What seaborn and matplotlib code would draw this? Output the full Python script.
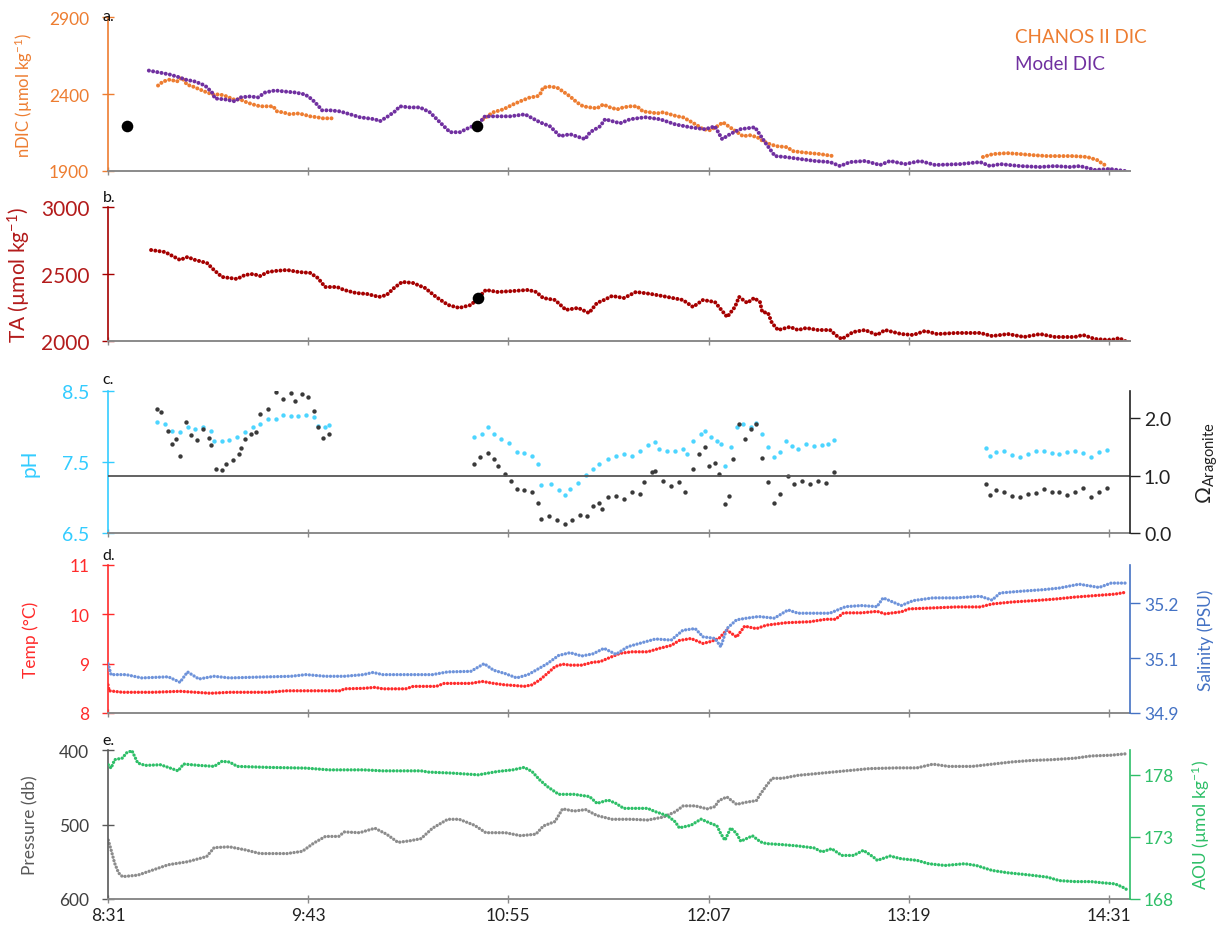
import numpy as np
import pandas as pd
import matplotlib
matplotlib.use("Agg")
import matplotlib.pyplot as plt
from matplotlib.lines import Line2D
from matplotlib.ticker import FixedLocator, FuncFormatter, FormatStrFormatter
import seaborn as sns

# ---------------------------------------------------------------------------
# Time axis: minutes after 08:31
# ---------------------------------------------------------------------------
START_MIN = 8 * 60 + 31
X_MAX = 367.6
X_TICKS = [0, 72, 144, 216, 288, 360]

# a. normalised DIC (umol/kg)
chanos_t_1 = [18.0, 19.8, 22.3, 24.8, 26.6, 28.4, 30.6, 33.1, 35.6, 37.8, 40.3, 42.8, 45.0, 47.5,
              50.0, 52.2, 54.7, 57.2, 59.4, 60.8, 62.9, 65.5, 68.0, 70.1, 72.7, 75.2, 77.3, 80.6]
chanos_dic_1 = [2455, 2481, 2494, 2481, 2507, 2461, 2448, 2429, 2410, 2397, 2397, 2384, 2365, 2365,
                2345, 2332, 2320, 2320, 2320, 2287, 2281, 2268, 2274, 2268, 2255, 2249, 2242, 2242]
chanos_t_2 = [134.9, 138.5, 142.1, 145.7, 148.2, 151.8, 154.3, 155.4, 156.5, 159.0, 161.5, 163.7,
              166.2, 168.7, 170.9, 173.4, 175.9, 178.1, 180.6, 183.1, 185.3, 187.8, 190.3, 192.4,
              195.0, 197.5, 199.6, 202.2, 204.7, 206.8, 209.4, 211.9, 214.0, 216.5, 219.1, 221.2,
              223.7, 226.3, 228.4, 230.9, 233.5, 235.6, 238.1, 240.6, 244.2, 246.4, 248.9, 252.5,
              256.1, 260.8, 261.5]
chanos_dic_2 = [2236, 2281, 2300, 2332, 2352, 2378, 2384, 2397, 2442, 2448, 2442, 2416,
                2384, 2345, 2320, 2313, 2307, 2332, 2313, 2300, 2313, 2320, 2320, 2287,
                2281, 2274, 2281, 2268, 2255, 2249, 2223, 2197, 2171, 2165, 2190, 2216,
                2184, 2152, 2126, 2132, 2120, 2094, 2074, 2061, 2055, 2029, 2023, 2016,
                2010, 1997, 1991]
chanos_t_3 = [314.7, 318.3, 323.4, 328.1, 332.7, 337.8, 342.4, 347.1, 352.2, 355.8, 357.9, 359.4]
chanos_dic_3 = [1991, 2010, 2016, 2010, 2003, 1997, 1997, 1997, 1991, 1971, 1945, 1932]

model_t = [14.7, 18.7, 22.3, 25.9, 27.7, 31.3, 34.9, 37.4, 38.5, 42.1, 45.7, 47.5, 51.1, 54.0, 56.5,
           60.1, 63.7, 67.3, 70.9, 73.4, 75.5, 77.0, 79.9, 83.5, 87.1, 90.6, 93.5, 96.0, 97.8, 100.7,
           103.2, 105.0, 108.6, 112.2, 115.8, 119.4, 123.0, 126.6, 130.2, 133.1, 135.6, 139.2, 144.6,
           150.0, 155.4, 159.0, 162.6, 166.2, 171.6, 173.4, 177.0, 178.8, 184.2, 187.8, 193.2, 198.6,
           204.0, 209.4, 214.7, 218.3, 220.9, 223.7, 227.3, 232.7, 236.3, 239.9, 243.5, 248.9, 254.3,
           259.7, 263.3, 266.9, 272.3, 277.7, 281.3, 286.7, 292.1, 297.5, 306.5, 313.7, 317.3, 320.9,
           328.1, 335.3, 340.6, 346.0, 349.6, 355.0, 360.4, 365.8]
model_dic = [2552, 2539, 2526, 2507, 2494, 2481, 2455, 2410, 2371, 2365, 2352, 2378, 2384, 2378, 2410,
             2423, 2416, 2410, 2397, 2365, 2326, 2294, 2294, 2287, 2268, 2249, 2242, 2236, 2223, 2255,
             2287, 2320, 2313, 2313, 2281, 2216, 2152, 2152, 2184, 2203, 2255, 2255, 2255,
             2268, 2216, 2190, 2126, 2139, 2107, 2152, 2190, 2236, 2210, 2236, 2249, 2236,
             2203, 2184, 2171, 2190, 2107, 2139, 2171, 2184, 2087, 1997, 1991, 1978, 1965,
             1958, 1932, 1958, 1965, 1939, 1965, 1945, 1965, 1939, 1945, 1958, 1932, 1945,
             1932, 1926, 1932, 1926, 1932, 1907, 1913, 1900]
dic_ref_t = [6.8, 132.7]
dic_ref = [2190, 2190]

# b. total alkalinity (umol/kg)
ta_t = [15.5, 20.5, 25.9, 28.6, 31.3, 35.6, 38.1, 41.0, 43.9, 46.4, 49.3, 52.2, 54.7, 57.6, 60.4,
        64.4, 68.5, 72.7, 75.5, 78.1, 82.4, 84.9, 89.2, 93.2, 97.5, 100.2, 102.9, 105.8, 109.7,
        114.0, 118.0, 122.3, 126.3, 130.6, 133.1, 135.9, 140.1, 145.7, 151.1, 154.0, 156.5, 160.8,
        164.7, 169.1, 173.0, 175.9, 178.4, 181.3, 185.6, 189.9, 195.3, 201.1, 206.8, 210.4, 214.0,
        218.3, 221.2, 222.7, 225.5, 227.0, 229.9, 232.4, 234.5, 235.3, 237.4, 238.8, 241.0, 245.3,
        248.2, 251.1, 255.4, 259.7, 262.6, 264.0, 268.0, 272.3, 276.6, 279.5, 285.3, 289.6, 293.9,
        298.2, 305.0, 313.7, 318.0, 323.7, 329.5, 335.3, 340.6, 347.8, 350.7, 355.0, 360.8, 363.7,
        366.5]
ta = [2679, 2664, 2605, 2627, 2605, 2582, 2530, 2478, 2470, 2463, 2493, 2500, 2485, 2515, 2523,
      2530, 2515, 2508, 2470, 2403, 2403, 2381, 2358, 2351, 2329, 2343, 2396, 2441, 2433,
      2396, 2329, 2269, 2247, 2269, 2321, 2381, 2366, 2373, 2381, 2366, 2321, 2306,
      2232, 2247, 2209, 2284, 2306, 2336, 2321, 2366, 2351, 2329, 2306, 2254, 2306,
      2291, 2217, 2179, 2254, 2329, 2284, 2321, 2291, 2217, 2209, 2135, 2082, 2105,
      2082, 2097, 2082, 2082, 2030, 2015, 2067, 2082, 2045, 2082, 2052, 2045, 2075,
      2052, 2060, 2060, 2037, 2052, 2030, 2052, 2030, 2030, 2045, 2015, 2007, 2022,
      1993]
ta_ref_t = [133.1]
ta_ref = [2321]

# c. pH and aragonite saturation state
ph_t = [17.6, 20.4, 23.0, 25.9, 28.6, 31.3, 34.2, 36.9, 38.1, 41.0, 43.7, 46.4, 49.3, 52.0, 54.7,
        57.6, 60.3, 62.9, 65.8, 68.5, 71.2, 74.1, 75.4, 78.1, 79.5,
        131.8, 134.5, 136.7, 138.7, 141.4, 144.2, 147.0, 149.7, 152.5, 154.6, 155.9, 159.4, 162.1,
        164.2, 166.2, 169.1, 171.8, 174.5, 176.6,
        179.9, 182.7, 185.6, 188.5, 191.4, 194.1, 196.9, 198.3, 201.2, 204.0, 206.8, 208.3, 210.4,
        213.3, 214.7, 216.9, 219.1, 220.5, 221.9, 224.0, 226.1, 228.3, 231.1, 233.2, 235.4, 237.5,
        239.7, 241.8, 243.9, 246.0, 248.2, 251.1, 254.0, 256.8, 258.9, 261.0,
        315.8, 317.3, 319.4, 322.3, 325.2, 328.1, 330.8, 333.7, 336.5, 339.4, 342.2, 345.1, 347.8,
        350.7, 353.6, 356.5, 359.4]
ph = [8.07, 8.04, 7.94, 7.92, 7.99, 7.96, 8.00, 7.93, 7.80, 7.79, 7.81, 7.85, 7.92, 7.99, 8.04,
      8.11, 8.11, 8.16, 8.15, 8.15, 8.16, 8.13, 8.01, 8.00, 8.02,
      7.85, 7.89, 7.99, 7.89, 7.82, 7.77, 7.64, 7.63, 7.59, 7.47, 7.17, 7.19, 7.10,
      7.03, 7.12, 7.21, 7.31, 7.40, 7.47,
      7.54, 7.58, 7.61, 7.58, 7.66, 7.74, 7.78, 7.68, 7.66, 7.65, 7.68, 7.61, 7.80,
      7.89, 7.94, 7.85, 7.80, 7.75, 7.45, 7.71, 8.00, 8.04, 7.99, 8.05, 7.89, 7.71,
      7.57, 7.64, 7.80, 7.73, 7.69, 7.75, 7.72, 7.74, 7.75, 7.81,
      7.70, 7.58, 7.64, 7.66, 7.60, 7.57, 7.61, 7.65, 7.66, 7.63, 7.61, 7.64, 7.66,
      7.63, 7.57, 7.64, 7.67]
omega_t = [17.6, 19.0, 21.6, 23.0, 24.5, 25.9, 27.9, 29.9, 32.0, 34.2, 36.2, 36.9, 38.8, 41.0, 42.4,
           45.1, 47.1, 47.8, 49.3, 51.3, 53.4, 54.7, 57.6, 60.3, 62.9, 65.8, 67.2, 69.9, 71.9, 74.1,
           75.4, 77.5, 79.5,
           131.8, 133.9, 136.7, 138.7, 140.1, 142.8, 145.0, 147.0, 149.7, 152.5, 154.6, 155.9, 158.6,
           161.4, 164.2, 166.9, 169.8, 172.4, 174.5, 176.6, 177.7, 179.9, 182.7, 185.6, 188.5, 191.4,
           192.7, 195.5, 196.9, 199.8, 202.6, 205.4, 207.6, 210.4, 212.6, 214.7, 216.2, 218.3, 219.7,
           221.9, 223.3, 224.7, 226.8, 229.0, 231.1, 233.2, 235.4, 237.5, 239.7, 241.8, 244.6, 246.8,
           249.6, 252.5, 255.4, 258.2, 261.0,
           315.8, 317.3, 319.4, 322.3, 325.2, 328.1, 330.8, 333.7, 336.5, 339.4, 342.2, 345.1, 347.8,
           350.7, 353.6, 356.5, 359.4]
omega = [2.16, 2.10, 1.78, 1.55, 1.63, 1.34, 1.93, 1.70, 1.61, 1.81, 1.66, 1.53, 1.12, 1.10, 1.20,
         1.27, 1.37, 1.47, 1.63, 1.72, 1.75, 2.07, 2.16, 2.45, 2.33, 2.43, 2.30, 2.42, 2.36, 2.13,
         1.84, 1.66, 1.72,
         1.20, 1.33, 1.40, 1.29, 1.17, 1.03, 0.91, 0.77, 0.75, 0.71, 0.53, 0.24, 0.30,
         0.23, 0.16, 0.23, 0.31, 0.30, 0.47, 0.53, 0.42, 0.62, 0.65, 0.59, 0.71, 0.68,
         0.88, 1.06, 1.08, 0.91, 0.82, 0.88, 0.71, 1.11, 1.37, 1.49, 1.17, 1.22, 1.03,
         0.50, 0.65, 1.29, 1.90, 1.63, 1.81, 1.90, 1.30, 0.88, 0.53, 0.68, 1.00, 0.85,
         0.91, 0.85, 0.91, 0.87, 1.06,
         0.85, 0.66, 0.74, 0.71, 0.64, 0.62, 0.68, 0.70, 0.77, 0.71, 0.72, 0.66, 0.71,
         0.79, 0.62, 0.71, 0.78]
OMEGA_SATURATION = 1.0

# d. temperature (degC) and salinity (PSU)
temp_t = [0.0, 0.4, 5.2, 16.2, 25.9, 36.9, 43.7, 57.6, 64.4, 71.2, 83.7, 85.0, 91.9, 96.0, 98.8,
          107.1, 109.8, 118.1, 120.9, 130.5, 134.6, 138.7, 142.8, 145.6, 149.7, 152.5, 155.3, 158.0,
          160.8, 163.5, 166.2, 170.4, 174.5, 177.0, 179.9, 184.2, 188.4, 194.1, 198.3, 202.6, 205.5,
          209.7, 214.0, 216.9, 219.7, 222.6, 226.1, 229.0, 233.2, 236.8, 243.9, 252.5, 258.2, 261.7,
          264.6, 271.0, 276.6, 279.5, 285.3, 288.1, 296.7, 305.2, 313.7, 318.0, 325.2, 333.7, 340.8,
          347.8, 355.0, 362.2, 366.4]
temp = [8.57, 8.45, 8.42, 8.42, 8.44, 8.40, 8.42, 8.42, 8.45, 8.45, 8.45, 8.49, 8.50, 8.52, 8.49,
        8.49, 8.54, 8.54, 8.60, 8.60, 8.64, 8.60, 8.57, 8.56, 8.54, 8.57, 8.67, 8.80,
        8.94, 8.99, 8.97, 8.97, 9.03, 9.04, 9.11, 9.21, 9.24, 9.24, 9.31, 9.37, 9.47,
        9.51, 9.41, 9.45, 9.51, 9.68, 9.54, 9.76, 9.71, 9.78, 9.83, 9.85, 9.90, 9.90,
        10.03, 10.03, 10.06, 10.01, 10.05, 10.11, 10.13, 10.15, 10.15, 10.21, 10.25, 10.28, 10.31,
        10.35, 10.38, 10.41, 10.45]
sal_t = [0.0, 1.1, 6.5, 12.1, 21.7, 25.9, 28.6, 32.7, 38.1, 43.7, 57.6, 65.8, 71.2, 78.2, 85.0,
         91.9, 95.3, 98.8, 104.3, 109.8, 116.7, 122.2, 130.5, 135.3, 138.7, 142.8, 147.0, 151.1,
         153.9, 158.0, 162.1, 166.2, 170.4, 174.5, 178.4, 182.7, 187.0, 191.2, 196.9, 202.6, 206.8,
         211.2, 214.0, 218.3, 220.4, 222.6, 226.1, 229.7, 234.0, 239.7, 244.6, 248.2, 254.0, 259.6,
         265.3, 271.0, 276.6, 278.8, 285.3, 289.6, 296.7, 305.2, 313.7, 318.0, 320.9, 328.0, 336.5,
         342.2, 349.3, 356.5, 360.8, 366.4]
sal = [35.090, 35.070, 35.070, 35.064, 35.066, 35.056, 35.075, 35.062, 35.067, 35.064, 35.066,
       35.067, 35.070, 35.067, 35.067, 35.070, 35.074, 35.070, 35.070, 35.070, 35.070, 35.075,
       35.076, 35.090, 35.078, 35.072, 35.064, 35.070, 35.078, 35.090, 35.105, 35.110, 35.104,
       35.108, 35.118, 35.107, 35.121, 35.127, 35.135, 35.133, 35.151, 35.154, 35.139, 35.136,
       35.121, 35.154, 35.170, 35.173, 35.176, 35.173, 35.188, 35.182, 35.182, 35.182, 35.194,
       35.196, 35.194, 35.210, 35.196, 35.205, 35.210, 35.210, 35.213, 35.206, 35.219, 35.222,
       35.225, 35.228, 35.235, 35.229, 35.237, 35.237]
SAL_TICKS = [35.0, 35.1, 35.2]
SAL_TICK_LABELS = ["34.9", "35.1", "35.2"]

# e. pressure (db) and apparent oxygen utilisation (umol/kg)
pres_t = [0.1, 1.1, 2.4, 3.8, 5.2, 10.7, 16.2, 21.7, 28.6, 35.5, 38.2, 43.7, 49.3, 54.7, 64.4,
          69.9, 74.0, 78.2, 83.0, 85.0, 90.5, 96.0, 100.2, 104.3, 108.4, 112.6, 116.7, 122.2, 126.3,
          131.8, 135.9, 142.9, 148.4, 153.9, 156.6, 160.8, 163.5, 167.6, 171.8, 175.9, 181.3, 188.4,
          194.1, 199.8, 204.0, 206.9, 211.2, 215.5, 218.3, 219.7, 222.6, 226.1, 229.7, 233.2, 234.7,
          236.8, 238.9, 242.5, 248.2, 254.0, 259.6, 265.3, 273.9, 283.8, 291.0, 296.7, 302.3, 310.9,
          318.0, 325.2, 332.3, 339.4, 347.8, 353.6, 360.8, 366.4]
pres = [521, 534, 552, 565, 570, 568, 561, 554, 550, 543, 531, 530, 534, 539, 539,
        536, 525, 516, 516, 510, 511, 505, 513, 524, 522, 519, 505, 493, 493,
        501, 511, 511, 515, 513, 502, 496, 479, 482, 480, 488, 493, 493,
        494, 490, 483, 475, 475, 479, 476, 468, 463, 473, 470, 468, 459,
        448, 438, 438, 434, 432, 430, 428, 425, 424, 424, 419, 422, 422,
        419, 416, 414, 413, 411, 408, 407, 405]
aou_t = [0.1, 1.1, 2.4, 5.2, 6.6, 8.6, 10.7, 13.4, 18.9, 23.1, 25.2, 27.2, 32.7, 38.2, 41.0,
         43.7, 46.5, 57.6, 71.2, 79.5, 82.3, 92.0, 98.8, 105.7, 112.6, 115.3, 123.6, 133.2, 140.1,
         145.6, 149.7, 152.5, 155.3, 158.0, 162.1, 167.6, 173.2, 175.9, 179.9, 182.7, 185.5, 194.1,
         196.9, 201.2, 204.0, 205.5, 209.7, 213.3, 216.9, 219.0, 220.4, 221.9, 224.0, 226.1, 227.6,
         231.8, 234.7, 236.8, 242.5, 248.2, 254.0, 256.8, 260.3, 263.9, 268.2, 271.7, 275.3, 276.7,
         281.3, 285.3, 291.0, 295.2, 301.0, 308.1, 312.3, 318.0, 323.7, 330.8, 337.9, 342.2, 347.9,
         353.6, 357.9, 362.2, 365.0, 367.1]
aou = [178.81, 178.54, 179.22, 179.35, 179.76, 179.95, 178.95, 178.76, 178.81, 178.49, 178.32,
       178.87, 178.76, 178.68, 179.09, 179.03, 178.68, 178.60, 178.54, 178.40, 178.40, 178.40,
       178.32, 178.32, 178.32, 178.22, 178.14, 178.00, 178.27, 178.40, 178.60, 178.27, 177.59,
       177.06, 176.43, 176.43, 176.25, 175.70, 175.97, 175.70, 175.30, 175.30, 175.03, 174.71,
       174.22, 173.73, 173.94, 174.43, 174.08, 173.90, 173.27, 172.73, 173.73, 173.27, 172.65,
       173.09, 172.60, 172.46, 172.38, 172.27, 172.11, 171.79, 172.05, 171.51, 171.51, 171.92,
       171.38, 171.11, 171.46, 171.24, 171.11, 170.84, 170.70, 170.84, 170.70, 170.30, 170.11,
       169.95, 169.76, 169.48, 169.40, 169.40, 169.30, 169.22, 168.95, 168.67]

# ---------------------------------------------------------------------------
# Colours
# ---------------------------------------------------------------------------
ORANGE = "#ED7D31"
PURPLE = "#7030A0"
DARKRED = "#A50000"
DARKRED_TXT = "#B31B1B"
CYAN = "#33CCFF"
CYAN_DOT = "#4DD5FF"
OMEGA_C = "#3A3A3A"
RED = "#FF2B2B"
BLUE = "#4472C4"
BLUE_DOT = "#6E93DA"
GREY = "#8C8C8C"
GREY_TXT = "#404040"
GREEN = "#2EBF68"
AXIS_GREY = "#8A8A8A"

sns.set_theme(style="ticks")
plt.rcParams["font.family"] = ["Lato", "DejaVu Sans"]
plt.rcParams["mathtext.fontset"] = "custom"
plt.rcParams["mathtext.rm"] = "Lato"
plt.rcParams["mathtext.it"] = "Lato:italic"

W, H = 1221, 937
fig = plt.figure(figsize=(W / 100, H / 100), dpi=100)


def rect(top, bottom):
    return [108 / W, 1 - bottom / H, (1130 - 108) / W, (bottom - top) / H]


ax_a = fig.add_axes(rect(18, 172))
ax_b = fig.add_axes(rect(208, 342))
ax_c = fig.add_axes(rect(392, 534))
ax_d = fig.add_axes(rect(566, 714))
ax_e = fig.add_axes(rect(751, 900))

# round dots strung along each series
DOT = dict(linestyle=(0, (0.01, 1.05)), dash_capstyle="round")


def dotted(ax, t, v, color, lw):
    df = pd.DataFrame({"t": t, "v": v})
    sns.lineplot(data=df, x="t", y="v", estimator=None, sort=False, color=color, lw=lw,
                 ax=ax, legend=False, **DOT)


def clock(m, _):
    tot = int(round(START_MIN + m))
    return f"{tot // 60}:{tot % 60:02d}"


def style_main(ax, color, tick_color, labelsize, show_x=False):
    ax.set_xlim(0, X_MAX)
    ax.xaxis.set_major_locator(FixedLocator(X_TICKS))
    ax.xaxis.set_major_formatter(FuncFormatter(clock))
    ax.tick_params(axis="x", direction="inout", length=6, width=1.0, color=AXIS_GREY,
                   labelsize=12.5, labelcolor="#222222", pad=3, labelbottom=show_x)
    ax.spines["bottom"].set_color(AXIS_GREY)
    ax.spines["bottom"].set_linewidth(1.4)
    ax.spines["left"].set_color(color)
    ax.spines["left"].set_linewidth(1.2)
    ax.spines["top"].set_visible(False)
    ax.spines["right"].set_visible(False)
    ax.tick_params(axis="y", direction="inout", length=9, width=1.0, color=color,
                   labelcolor=tick_color, labelsize=labelsize, pad=9)
    ax.set_xlabel("")


def style_twin(tw, color, labelsize=12.5):
    for s in ("left", "top", "bottom"):
        tw.spines[s].set_visible(False)
    tw.spines["right"].set_color(color)
    tw.spines["right"].set_linewidth(1.2)
    tw.tick_params(axis="y", direction="out", length=7, width=1.0, color=color,
                   labelcolor=color, labelsize=labelsize, pad=3)
    tw.set_xlabel("")


def panel_tag(ax, tag, dy):
    ax.annotate(tag, xy=(0, 1), xycoords="axes fraction", xytext=(-4, dy),
                textcoords="offset points", ha="left", va="center", fontsize=11.5, color="#111111")


# ---------------- a. DIC ----------------
for seg_t, seg_v in ((chanos_t_1, chanos_dic_1), (chanos_t_2, chanos_dic_2), (chanos_t_3, chanos_dic_3)):
    dotted(ax_a, seg_t, seg_v, ORANGE, 2.9)
dotted(ax_a, model_t, model_dic, PURPLE, 2.9)
sns.scatterplot(x=dic_ref_t, y=dic_ref, color="black", s=70, linewidth=0, ax=ax_a, zorder=5)
ax_a.set_ylim(1900, 2900)
ax_a.yaxis.set_major_locator(FixedLocator([1900, 2400, 2900]))
style_main(ax_a, ORANGE, ORANGE, 12.5)
ax_a.set_ylabel("nDIC (µmol kg$^{-1}$)", color=ORANGE, fontsize=12)
ax_a.yaxis.set_label_coords(-0.071, 0.5)
panel_tag(ax_a, "a.", 1)
handles = [Line2D([], [], color=ORANGE, lw=0), Line2D([], [], color=PURPLE, lw=0)]
ax_a.legend(handles, ["CHANOS II DIC", "Model DIC"], loc="upper left",
            bbox_to_anchor=(0.878, 0.99), frameon=False, handlelength=0, handletextpad=0,
            labelcolor=[ORANGE, PURPLE], fontsize=13.5, labelspacing=0.55, borderpad=0)

# ---------------- b. TA ----------------
dotted(ax_b, ta_t, ta, DARKRED, 2.9)
sns.scatterplot(x=ta_ref_t, y=ta_ref, color="black", s=70, linewidth=0, ax=ax_b, zorder=5)
ax_b.set_ylim(2000, 3000)
ax_b.yaxis.set_major_locator(FixedLocator([2000, 2500, 3000]))
style_main(ax_b, DARKRED, DARKRED_TXT, 15)
ax_b.set_ylabel("TA (µmol kg$^{-1}$)", color=DARKRED_TXT, fontsize=15)
ax_b.yaxis.set_label_coords(-0.073, 0.5)
panel_tag(ax_b, "b.", 7)

# ---------------- c. pH / Omega ----------------
sns.scatterplot(x=ph_t, y=ph, color=CYAN_DOT, s=10, linewidth=0, ax=ax_c)
ax_c.set_ylim(6.5, 8.5)
ax_c.yaxis.set_major_locator(FixedLocator([6.5, 7.5, 8.5]))
ax_c.yaxis.set_major_formatter(FormatStrFormatter("%.1f"))
style_main(ax_c, CYAN, CYAN, 14)
ax_c.set_ylabel("pH", color=CYAN, fontsize=15)
ax_c.yaxis.set_label_coords(-0.067, 0.5)
panel_tag(ax_c, "c.", 9)

tw_c = ax_c.twinx()
sns.scatterplot(x=omega_t, y=omega, color=OMEGA_C, s=10, linewidth=0, ax=tw_c)
tw_c.axhline(OMEGA_SATURATION, color="#555555", lw=1.3, zorder=1)
tw_c.set_ylim(0, 2.47)
tw_c.yaxis.set_major_locator(FixedLocator([0.0, 1.0, 2.0]))
tw_c.yaxis.set_major_formatter(FormatStrFormatter("%.1f"))
style_twin(tw_c, "#222222", labelsize=14)
tw_c.tick_params(axis="y", labelcolor="#222222")
tw_c.set_ylabel(r"$\Omega_{\mathregular{Aragonite}}$", color="#222222", fontsize=15)
tw_c.yaxis.set_label_coords(1.063, 0.5)

# ---------------- d. Temperature / Salinity ----------------
dotted(ax_d, temp_t, temp, RED, 2.4)
ax_d.set_ylim(8, 11)
ax_d.yaxis.set_major_locator(FixedLocator([8, 9, 10, 11]))
style_main(ax_d, RED, RED, 12.5)
ax_d.set_ylabel("Temp (°C)", color=RED, fontsize=12.5)
ax_d.yaxis.set_label_coords(-0.068, 0.5)
panel_tag(ax_d, "d.", 7)

tw_d = ax_d.twinx()
dotted(tw_d, sal_t, sal, BLUE_DOT, 2.4)
tw_d.set_ylim(35.0, 35.27)
tw_d.yaxis.set_major_locator(FixedLocator(SAL_TICKS))
tw_d.set_yticklabels(SAL_TICK_LABELS)
style_twin(tw_d, BLUE)
tw_d.set_ylabel("Salinity (PSU)", color=BLUE, fontsize=12.5)
tw_d.yaxis.set_label_coords(1.066, 0.5)

# ---------------- e. Pressure / AOU ----------------
dotted(ax_e, pres_t, pres, GREY, 2.4)
ax_e.set_ylim(600, 400)
ax_e.yaxis.set_major_locator(FixedLocator([400, 500, 600]))
style_main(ax_e, "#595959", GREY_TXT, 12.5, show_x=True)
ax_e.set_ylabel("Pressure (db)", color="#595959", fontsize=12.5)
ax_e.yaxis.set_label_coords(-0.068, 0.5)
panel_tag(ax_e, "e.", 7)

tw_e = ax_e.twinx()
dotted(tw_e, aou_t, aou, GREEN, 2.4)
tw_e.set_ylim(168, 180)
tw_e.yaxis.set_major_locator(FixedLocator([168, 173, 178]))
style_twin(tw_e, GREEN)
tw_e.set_ylabel("AOU (µmol kg$^{-1}$)", color=GREEN, fontsize=12.5)
tw_e.yaxis.set_label_coords(1.058, 0.5)

for tw in (tw_c, tw_d, tw_e):
    tw.set_xlim(0, X_MAX)

fig.savefig("out.png", dpi=100)
